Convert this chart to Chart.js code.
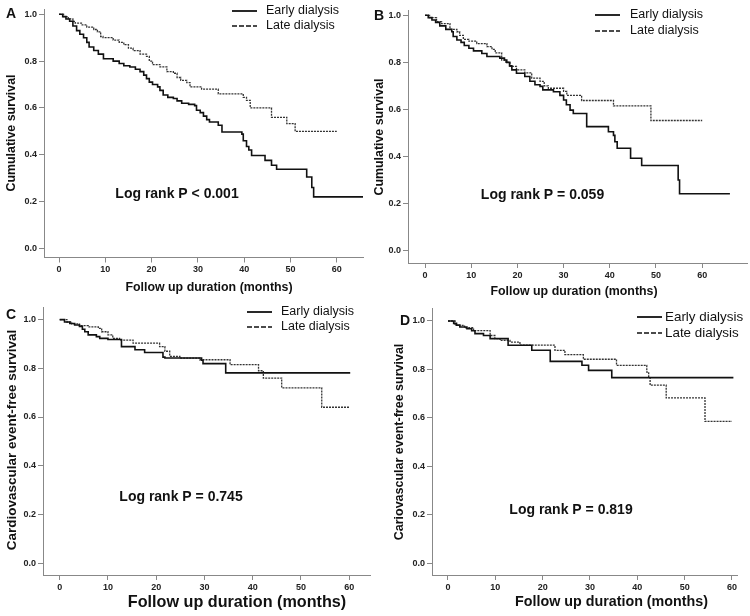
<!DOCTYPE html>
<html>
<head>
<meta charset="utf-8">
<script src="https://cdn.jsdelivr.net/npm/chart.js@4.4.0/dist/chart.umd.min.js"></script>
<style>
body{margin:0;background:#fff;width:750px;height:616px;position:relative;overflow:hidden}
canvas{position:absolute}
</style>
</head>
<body>
<canvas id="panelA"></canvas>
<canvas id="panelB"></canvas>
<canvas id="panelC"></canvas>
<canvas id="panelD"></canvas>
<script>
// series names + ticks
const groups=['Early dialysis','Late dialysis'];
const xTicks=[0,10,20,30,40,50,60];
const yTicks=[0,0.2,0.4,0.6,0.8,1.0];
const xTitle='Follow up duration (months)';
const yTitles=['Cumulative survival','Cumulative survival','Cardiovascular event-free survival','Cariovascular event-free survival'];
const pTexts=['Log rank P < 0.001','Log rank P = 0.059','Log rank P = 0.745','Log rank P = 0.819'];

// [month, survival]
const aEarly=[[0,1],[0.8,0.99],[1.5,0.98],[2.3,0.97],[3,0.95],[3.8,0.93],[4.5,0.915],[5.3,0.9],[6,0.88],[6.5,0.86],[7.5,0.845],[8.5,0.83],[9.6,0.81],[11.7,0.8],[13,0.79],[14,0.78],[15.3,0.775],[16.5,0.765],[17.5,0.755],[18.3,0.74],[18.9,0.725],[19.5,0.71],[20.2,0.7],[21.3,0.69],[21.8,0.675],[22.5,0.655],[23.5,0.645],[24.7,0.64],[25.5,0.63],[26.5,0.62],[28,0.615],[29.3,0.61],[29.7,0.59],[30.5,0.58],[31.2,0.565],[31.9,0.55],[32.5,0.54],[34.4,0.526],[35.2,0.497],[39.5,0.488],[39.8,0.46],[40.5,0.435],[41,0.42],[41.6,0.397],[44.5,0.376],[45.9,0.355],[47,0.338],[53.5,0.305],[54.6,0.26],[55,0.22],[65.7,0.22]];
const aLate=[[0,1],[1,0.99],[2,0.98],[3,0.97],[3.5,0.962],[5,0.955],[6,0.945],[7.5,0.935],[8.3,0.925],[9,0.905],[9.5,0.9],[11.7,0.89],[13,0.88],[14,0.87],[15,0.855],[16,0.845],[17.5,0.83],[18.9,0.82],[19.5,0.8],[20.2,0.785],[21.8,0.775],[23.3,0.755],[24.7,0.748],[25.5,0.73],[26.3,0.718],[27.6,0.708],[28.3,0.69],[30.8,0.68],[34.4,0.66],[39.8,0.645],[40.5,0.632],[41.3,0.6],[45.9,0.56],[49.2,0.533],[51,0.5],[60,0.5]];
const bEarly=[[0,1],[0.7,0.99],[1.5,0.98],[2.3,0.97],[3.2,0.955],[4.5,0.94],[5.8,0.93],[6.1,0.91],[6.9,0.895],[7.8,0.885],[8.5,0.872],[9.5,0.86],[10.5,0.849],[12.3,0.838],[13.4,0.825],[16.2,0.818],[17.2,0.81],[17.7,0.8],[18.3,0.785],[18.8,0.768],[19.8,0.754],[21.6,0.74],[22.7,0.72],[23.8,0.705],[24.9,0.698],[25.5,0.683],[27.8,0.675],[29.2,0.66],[30,0.64],[30.6,0.62],[31.4,0.597],[32.1,0.583],[35,0.527],[39.7,0.505],[40.8,0.49],[41.1,0.463],[41.6,0.435],[44.5,0.393],[46.9,0.362],[54.8,0.3],[55.1,0.242],[66,0.242]];
const bLate=[[0,1],[1,0.99],[2.5,0.973],[3.6,0.965],[5.4,0.94],[6.9,0.93],[7.5,0.915],[8.3,0.898],[9.5,0.89],[11.2,0.88],[13.4,0.867],[14.5,0.855],[15.2,0.84],[16.6,0.81],[17.5,0.8],[18.4,0.783],[19.8,0.768],[21.6,0.755],[23.1,0.733],[24.9,0.719],[25.8,0.7],[26.7,0.69],[30,0.677],[30.7,0.66],[33.9,0.638],[40.8,0.615],[48.9,0.553],[60,0.553]];
const cEarly=[[0,1],[1,0.99],[2.1,0.984],[3.1,0.978],[4.1,0.972],[4.7,0.96],[5.2,0.95],[5.9,0.937],[7.6,0.93],[8.3,0.923],[10,0.918],[12.8,0.889],[15.6,0.876],[17.6,0.865],[21.4,0.846],[21.8,0.842],[29.4,0.833],[29.7,0.819],[34.4,0.781],[60.2,0.781]];
const cLate=[[0,1],[1.5,0.99],[2.5,0.982],[4.1,0.975],[5.9,0.97],[8,0.964],[8.7,0.95],[10,0.937],[11,0.923],[12.4,0.916],[15.2,0.903],[20.7,0.889],[21.8,0.87],[22.8,0.849],[24.9,0.842],[29,0.835],[35.3,0.815],[41.2,0.79],[42.2,0.76],[46,0.72],[54.3,0.64],[60,0.64]];
const dEarly=[[0,1],[1.2,0.99],[1.8,0.983],[2.5,0.975],[4,0.968],[5,0.96],[5.7,0.948],[7.5,0.94],[8.9,0.927],[12.7,0.9],[17.7,0.879],[21.6,0.833],[28.3,0.817],[29.7,0.796],[34.6,0.766],[60.3,0.766]];
const dLate=[[0,1],[1.5,0.982],[3.5,0.972],[5.4,0.96],[8.9,0.94],[9.9,0.927],[11,0.92],[13.1,0.913],[15.2,0.9],[22.6,0.879],[24.7,0.861],[28.6,0.842],[35.6,0.817],[42,0.789],[42.4,0.77],[42.7,0.735],[46.1,0.682],[54.3,0.585],[60,0.585]];

const FONT='"Liberation Sans", Arial, sans-serif';

// layout of each panel (page pixels)
const panels=[
 {id:'panelA',letter:'A',box:[0,0,375,300],plot:[44,9.6,363,257.5],xr:[-3.24,65.66],yr:[-0.039,1.02],early:aEarly,late:aLate,
  let:[11,14],leg:[232,11,26,266,12.5],lr:[177,194,14],xt:[209,288,12.4],yt:[12,133,12.4],i:0},
 {id:'panelB',letter:'B',box:[372,0,378,300],plot:[408,10,747,263],xr:[-3.68,69.7],yr:[-0.0523,1.0225],early:bEarly,late:bLate,
  let:[379,16],leg:[595,15,31,630,12.5],lr:[542.5,195,14],xt:[574,292,12.4],yt:[380,137,12.4],i:1},
 {id:'panelC',letter:'C',box:[0,300,375,316],plot:[43,303.6,370,575],xr:[-3.46,64.3],yr:[-0.0486,1.05],early:cEarly,late:cLate,
  let:[11,315],leg:[247,312,327,281,12.5],lr:[181,497,14],xt:[237,603,16.2],yt:[12,440,13.5],i:2},
 {id:'panelD',letter:'D',box:[375,300,375,316],plot:[432,308,737,575],xr:[-3.38,61.06],yr:[-0.0495,1.0537],early:dEarly,late:dLate,
  let:[405,321],leg:[637,317,333,665,13.4],lr:[571,510,14],xt:[611.5,602,14.3],yt:[400,442,12.5],i:3}
];

function toXY(arr){return arr.map(d=>({x:d[0],y:d[1]}))}

function textPlugin(p){
  return {id:'panelText',afterDraw(chart){
    const c=chart.ctx, ox=p.box[0], oy=p.box[1];
    c.save();
    c.fillStyle='#111';c.strokeStyle='#111';
    c.textBaseline='middle';
    // panel letter
    c.font='bold 14px '+FONT;c.textAlign='center';
    c.fillText(p.letter,p.let[0]-ox,p.let[1]-oy);
    // legend
    const L=p.leg;
    [L[1],L[2]].forEach((ly,k)=>{
      c.beginPath();c.lineWidth=k?1.4:1.8;c.setLineDash(k?[5,2]:[]);
      c.moveTo(L[0]-ox,ly-oy);c.lineTo(L[0]+25-ox,ly-oy);c.stroke();
      c.setLineDash([]);
      c.font=L[4]+'px '+FONT;c.textAlign='left';
      c.fillText(groups[k],L[3]-ox,ly-oy);
    });
    // log rank
    c.font='bold '+p.lr[2]+'px '+FONT;c.textAlign='center';
    c.fillText(pTexts[p.i],p.lr[0]-ox,p.lr[1]-oy);
    // axis titles
    c.font='bold '+p.xt[2]+'px '+FONT;
    c.fillText(xTitle,p.xt[0]-ox,p.xt[1]-oy);
    c.translate(p.yt[0]-ox,p.yt[1]-oy);c.rotate(-Math.PI/2);
    c.font='bold '+p.yt[2]+'px '+FONT;
    c.fillText(yTitles[p.i],0,0);
    c.restore();
  }};
}

function makePanel(p){
  const cv=document.getElementById(p.id);
  cv.width=p.box[2];cv.height=p.box[3];
  cv.style.left=p.box[0]+'px';cv.style.top=p.box[1]+'px';
  cv.style.width=p.box[2]+'px';cv.style.height=p.box[3]+'px';
  const tickFont={family:FONT,size:9,weight:'bold'};
  new Chart(cv.getContext('2d'),{
    type:'line',
    data:{datasets:[
      {label:groups[0],data:toXY(p.early),stepped:'before',borderColor:'#111',borderWidth:1.6,pointRadius:0,fill:false},
      {label:groups[1],data:toXY(p.late),stepped:'before',borderColor:'#333',borderWidth:1.3,borderDash:[2,1],pointRadius:0,fill:false}
    ]},
    options:{
      responsive:false,animation:false,
      layout:{autoPadding:false,padding:{left:0,top:p.plot[1]-p.box[1],right:p.box[0]+p.box[2]-p.plot[2],bottom:0}},
      plugins:{legend:{display:false},tooltip:{enabled:false}},
      scales:{
        x:{type:'linear',min:p.xr[0],max:p.xr[1],
          afterBuildTicks:s=>{s.ticks=xTicks.map(v=>({value:v}))},
          afterFit:s=>{s.height=p.box[1]+p.box[3]-p.plot[3]},
          grid:{drawOnChartArea:false,tickLength:5,tickColor:'#888'},
          border:{color:'#888',width:1},
          ticks:{font:tickFont,color:'#222',padding:2,maxRotation:0,callback:v=>v}},
        y:{type:'linear',min:p.yr[0],max:p.yr[1],
          afterBuildTicks:s=>{s.ticks=yTicks.map(v=>({value:v}))},
          afterFit:s=>{s.width=p.plot[0]-p.box[0]},
          grid:{drawOnChartArea:false,tickLength:5,tickColor:'#888'},
          border:{color:'#888',width:1},
          ticks:{font:tickFont,color:'#222',padding:2,callback:v=>Number(v).toFixed(1)}}
      }
    },
    plugins:[textPlugin(p)]
  });
}

panels.forEach(makePanel);
</script>
</body>
</html>
